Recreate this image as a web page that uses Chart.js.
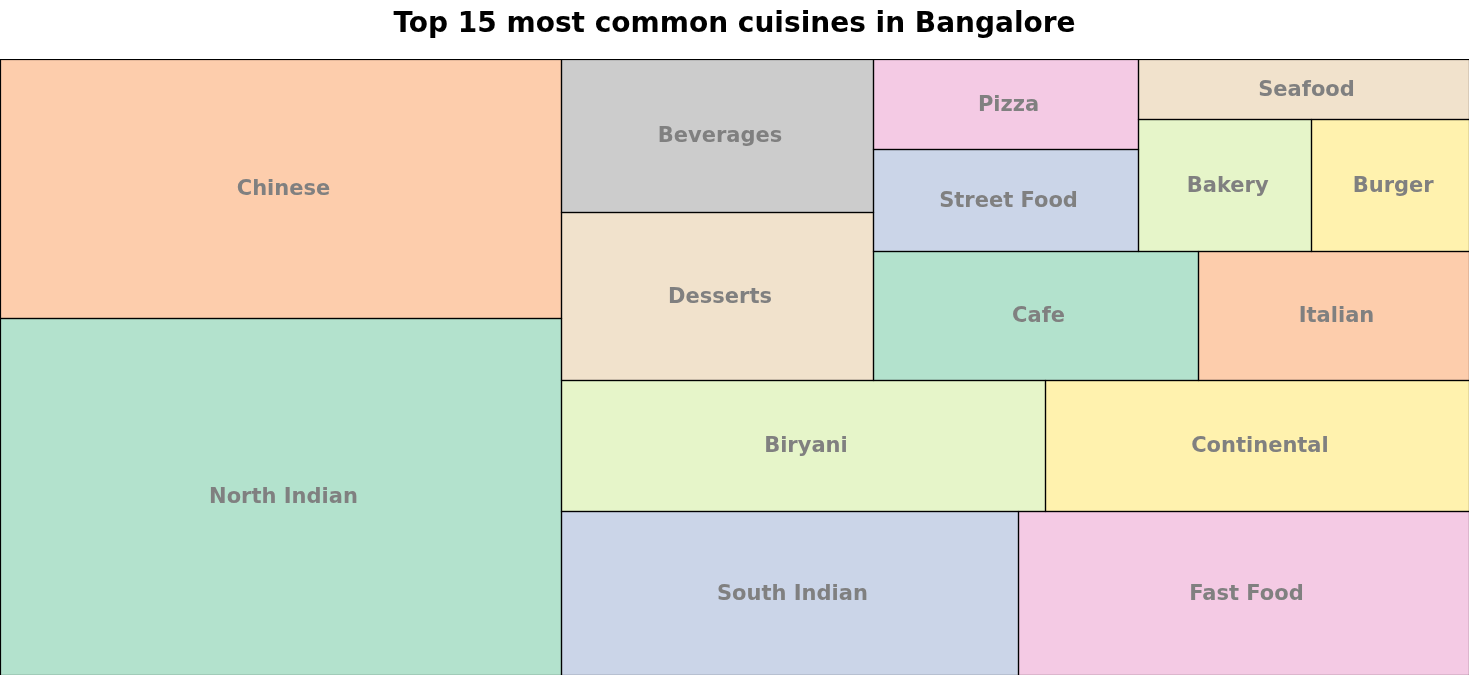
<!DOCTYPE html>
<html>
<head>
<meta charset="utf-8">
<script src="https://cdn.jsdelivr.net/npm/chart.js@4/dist/chart.umd.min.js"></script>
<style>
  html, body { margin: 0; padding: 0; background: #ffffff; }
  #wrap { width: 1469px; height: 685px; }
</style>
</head>
<body>
<div id="wrap"><canvas id="c" width="1469" height="685"></canvas></div>
<script>
// ---- data ----
const cuisines = ["North Indian", "Chinese", "South Indian", "Fast Food", "Biryani",
  "Continental", "Desserts", "Beverages", "Cafe", "Italian",
  "Street Food", "Pizza", "Bakery", "Burger", "Seafood"];
const counts = [21085, 15300, 7890, 7790, 6675,
  5850, 5520, 5025, 4415, 3680,
  2845, 2510, 2410, 2190, 2090];
const palette = ['#b3e2cd', '#fdcdac', '#cbd5e8', '#f4cae4', '#e6f5c9', '#fff2ae', '#f1e2cc', '#cccccc'];
const titleText = "Top 15 most common cuisines in Bangalore";

// ---- squarify layout (same algorithm as python squarify) on a 100 x 100 square ----
function layoutrow(sizes, x, y, dx, dy) {
  const covered = sizes.reduce((a, b) => a + b, 0);
  const width = covered / dy;
  const rects = [];
  for (const s of sizes) { rects.push({x: x, y: y, dx: width, dy: s / width}); y += s / width; }
  return rects;
}
function layoutcol(sizes, x, y, dx, dy) {
  const covered = sizes.reduce((a, b) => a + b, 0);
  const height = covered / dx;
  const rects = [];
  for (const s of sizes) { rects.push({x: x, y: y, dx: s / height, dy: height}); x += s / height; }
  return rects;
}
function layout(sizes, x, y, dx, dy) {
  return dx >= dy ? layoutrow(sizes, x, y, dx, dy) : layoutcol(sizes, x, y, dx, dy);
}
function leftover(sizes, x, y, dx, dy) {
  const covered = sizes.reduce((a, b) => a + b, 0);
  if (dx >= dy) { const w = covered / dy; return [x + w, y, dx - w, dy]; }
  const h = covered / dx; return [x, y + h, dx, dy - h];
}
function worst(sizes, x, y, dx, dy) {
  return Math.max(...layout(sizes, x, y, dx, dy).map(r => Math.max(r.dx / r.dy, r.dy / r.dx)));
}
function squarify(sizes, x, y, dx, dy) {
  if (sizes.length === 0) return [];
  if (sizes.length === 1) return layout(sizes, x, y, dx, dy);
  let i = 1;
  while (i < sizes.length && worst(sizes.slice(0, i), x, y, dx, dy) >= worst(sizes.slice(0, i + 1), x, y, dx, dy)) i++;
  const cur = sizes.slice(0, i), rem = sizes.slice(i);
  const lo = leftover(cur, x, y, dx, dy);
  return layout(cur, x, y, dx, dy).concat(squarify(rem, lo[0], lo[1], lo[2], lo[3]));
}
const total = counts.reduce((a, b) => a + b, 0);
const normed = counts.map(v => v * 100 * 100 / total);
const rects = squarify(normed, 0, 0, 100, 100);

// ---- plugin drawing the cells through the chart scales ----
const snap = v => Math.round(v) + 0.5;
const treemapPlugin = {
  id: 'treemapCells',
  afterDatasetsDraw(chart) {
    const {ctx, chartArea, scales: {x, y}} = chart;
    ctx.save();
    ctx.beginPath();
    ctx.rect(chartArea.left, chartArea.top, chartArea.right - chartArea.left, chartArea.bottom - chartArea.top);
    ctx.clip();
    rects.forEach((r, i) => {
      const x0 = x.getPixelForValue(r.x), x1 = x.getPixelForValue(r.x + r.dx);
      const y0 = y.getPixelForValue(r.y + r.dy), y1 = y.getPixelForValue(r.y);
      ctx.fillStyle = palette[i % palette.length];
      ctx.fillRect(x0, y0, x1 - x0, y1 - y0);
    });
    rects.forEach((r, i) => {
      const x0 = snap(x.getPixelForValue(r.x)), x1 = snap(x.getPixelForValue(r.x + r.dx));
      const y0 = snap(y.getPixelForValue(r.y + r.dy)), y1 = snap(y.getPixelForValue(r.y));
      ctx.strokeStyle = '#000000';
      ctx.lineWidth = 1.2;
      ctx.strokeRect(x0, y0, x1 - x0, y1 - y0);
    });
    ctx.fillStyle = '#808080';
    ctx.font = 'bold 21px "DejaVu Sans"';
    ctx.textAlign = 'center';
    ctx.textBaseline = 'middle';
    rects.forEach((r, i) => {
      const cx = x.getPixelForValue(r.x + r.dx / 2);
      const cy = y.getPixelForValue(r.y + r.dy / 2);
      ctx.fillText(cuisines[i], cx + 3, cy + 1.5);
    });
    ctx.restore();
  }
};

new Chart(document.getElementById('c'), {
  type: 'scatter',
  data: { datasets: [{ data: [], showLine: false }] },
  options: {
    responsive: false,
    animation: false,
    layout: { padding: { left: 0, right: 0, top: 0, bottom: 10 } },
    plugins: {
      legend: { display: false },
      tooltip: { enabled: false },
      title: {
        display: true,
        text: titleText,
        color: '#000000',
        font: { family: '"DejaVu Sans"', size: 28, weight: 'bold', lineHeight: 1.2 },
        padding: { top: 8, bottom: 17.4 }
      }
    },
    scales: {
      x: { type: 'linear', min: 0, max: 100, display: false },
      y: { type: 'linear', min: 0, max: 100, display: false }
    }
  },
  plugins: [treemapPlugin]
});
</script>
</body>
</html>
